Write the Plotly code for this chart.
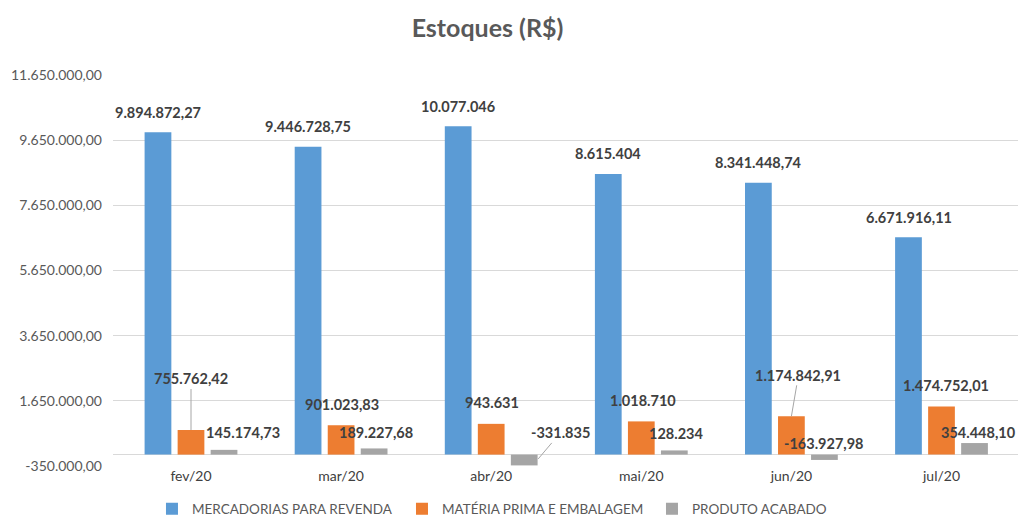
import plotly.graph_objects as go

categories = ["fev/20", "mar/20", "abr/20", "mai/20", "jun/20", "jul/20"]
mercadorias = [9894872.27, 9446728.75, 10077046, 8615404, 8341448.74, 6671916.11]
materia_prima = [755762.42, 901023.83, 943631, 1018710, 1174842.91, 1474752.01]
produto_acabado = [145174.73, 189227.68, -331835, 128234, -163927.98, 354448.10]
series_names = ["MERCADORIAS PARA REVENDA", "MATÉRIA PRIMA E EMBALAGEM", "PRODUTO ACABADO"]
y_ticks = [-350000, 1650000, 3650000, 5650000, 7650000, 9650000, 11650000]

colors = ["#5B9BD5", "#ED7D31", "#A5A5A5"]
FONT = "Lato, 'Open Sans', sans-serif"
LABEL_COLOR = "#404040"
AXIS_COLOR = "#595959"


def fmt(v, force_dec=False):
    if float(v).is_integer() and not force_dec:
        s = f"{int(v):,}"
    else:
        s = f"{v:,.2f}"
    return s.replace(",", "X").replace(".", ",").replace("X", ".")


fig = go.Figure()
for name, vals, col in zip(series_names, [mercadorias, materia_prima, produto_acabado], colors):
    fig.add_trace(go.Bar(name=name, x=categories, y=vals, marker_color=col,
                         marker_line_width=0, hoverinfo="skip"))

# label placement (pixel offsets): (dx, dy, leader_line)
series_shift = [-33, 0, 33]
blue_off = [(0, 20, False)] * 6
orange_off = [(0, -51, True), (1, 21, False), (1, 21, False), (2, 21, False),
              (7, -41, True), (4, 21, False)]
gray_off = [(19, 17, False), (2, 16, False), (22, -26, True), (2, 17, False),
            (0, 16, False), (4, 11, False)]

annotations = []
for s_idx, (vals, offs) in enumerate(zip([mercadorias, materia_prima, produto_acabado],
                                         [blue_off, orange_off, gray_off])):
    for cat, v, (dx, dy, arrow) in zip(categories, vals, offs):
        base = dict(x=cat, xref="x", yref="y", text=fmt(v),
                    font=dict(family=FONT, size=14.5, color=LABEL_COLOR, weight="bold"))
        if arrow:
            if s_idx == 2:
                # leader line points to the side of the negative bar
                base.update(y=v * 0.4, xshift=series_shift[s_idx] + 14,
                            showarrow=True, ax=dx, ay=dy, arrowhead=0,
                            arrowwidth=1, arrowcolor="#A6A6A6", standoff=0)
            else:
                base.update(y=v, xshift=series_shift[s_idx],
                            showarrow=True, ax=dx, ay=dy, arrowhead=0,
                            arrowwidth=1, arrowcolor="#A6A6A6", standoff=0)
        else:
            base.update(y=v, xshift=series_shift[s_idx] + dx, yshift=dy,
                        showarrow=False, yanchor="middle")
        annotations.append(base)

fig.update_layout(
    width=1020, height=518,
    paper_bgcolor="white", plot_bgcolor="white",
    margin=dict(l=113, r=2, t=75, b=52, autoexpand=False),
    barmode="group", bargap=0.34, bargroupgap=0.19,
    title=dict(text="Estoques (R$)", x=0.478, xref="container", xanchor="center",
               y=0.946, yref="container", yanchor="middle",
               font=dict(family=FONT, size=25, color=AXIS_COLOR, weight="bold")),
    legend=dict(orientation="h", xref="container", yref="container",
                x=0.149, xanchor="left", y=0.0174, yanchor="middle",
                font=dict(family=FONT, size=13.5, color=AXIS_COLOR),
                itemwidth=30, entrywidth=205, entrywidthmode="pixels",
                traceorder="normal"),
    annotations=annotations,
    xaxis=dict(showgrid=False, showline=False, ticks="",
               tickfont=dict(family=FONT, size=14, color=LABEL_COLOR)),
    yaxis=dict(range=[-350000, 11650000], tickvals=y_ticks,
               ticktext=[fmt(t, True) for t in y_ticks],
               showgrid=True, gridcolor="#D9D9D9", gridwidth=1,
               zeroline=True, zerolinecolor="#D9D9D9", zerolinewidth=1,
               showline=False, ticks="", ticklabelstandoff=10,
               tickfont=dict(family=FONT, size=14, color=AXIS_COLOR)),
)

fig.write_html("out.html", config={"displayModeBar": False},
               post_script="document.body.style.margin='0';")
